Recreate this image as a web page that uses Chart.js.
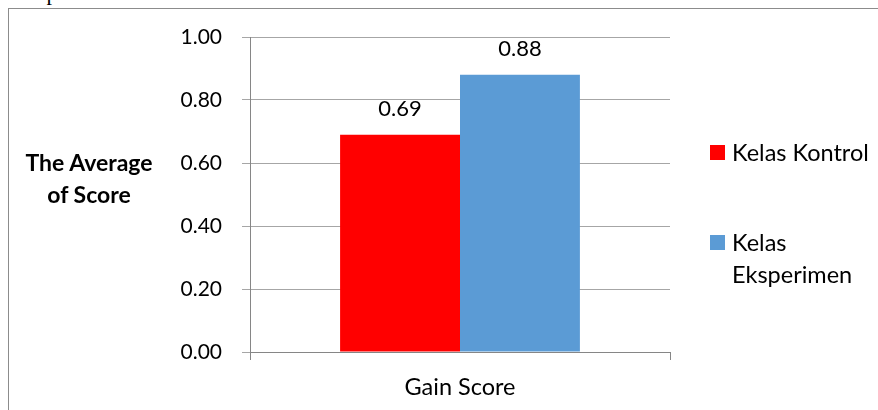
<!DOCTYPE html>
<html>
<head>
<meta charset="utf-8">
<script src="https://cdn.jsdelivr.net/npm/chart.js@4.4.1/dist/chart.umd.min.js"></script>
<style>
  body { margin: 0; background: #fff; overflow: hidden; }
  #wrap { position: relative; width: 878px; height: 410px; }
  #frame { position: absolute; left: 8px; top: 8px; width: 900px; height: 420px;
           border-left: 1px solid #8c8c8c; border-top: 1px solid #8c8c8c; }
  #above { position: absolute; left: -3px; top: -20px; font: 22px "Liberation Serif", serif; color: #000; }
  #chartBox { position: absolute; left: 0; top: 0; width: 878px; height: 410px; }
  #yTitle { position: absolute; left: 14px; top: 146px; width: 150px; text-align: center;
            font: bold 23px Lato, sans-serif; line-height: 32px; color: #000; }
  #legend { position: absolute; left: 710px; top: 136px; font: 23.5px Lato, sans-serif; color: #000; }
  .item { position: relative; padding-left: 22px; width: 150px; line-height: 32px; }
  .box { position: absolute; left: 0; top: 9px; width: 15px; height: 15px; }
</style>
</head>
<body>
<div id="wrap">
  <div id="above">n Graph 4.9.</div>
  <div id="frame"></div>
  <div id="chartBox"><canvas id="gainChart"></canvas></div>
  <div id="yTitle">The Average<br>of Score</div>
  <div id="legend"></div>
</div>
<script>
const categories = ["Gain Score"];
const seriesNames = ["Kelas Kontrol", "Kelas Eksperimen"];
const seriesValues = [[0.69], [0.88]];
const seriesColors = ["#ff0000", "#5b9bd5"];
const yMin = 0, yMax = 1, yStep = 0.2;

// value labels above bars
const valueLabels = {
  id: "valueLabels",
  afterDatasetsDraw(chart) {
    const ctx = chart.ctx;
    ctx.save();
    ctx.font = "22px Lato, sans-serif";
    ctx.fillStyle = "#000";
    ctx.textAlign = "center";
    ctx.textBaseline = "alphabetic";
    chart.data.datasets.forEach((ds, i) => {
      chart.getDatasetMeta(i).data.forEach((bar, j) => {
        ctx.fillText(ds.data[j].toFixed(2), bar.x, bar.y - 19);
      });
    });
    ctx.restore();
  }
};

function buildLegend() {
  const legend = document.getElementById("legend");
  seriesNames.forEach((name, i) => {
    const item = document.createElement("div");
    item.className = "item";
    item.style.marginBottom = i === 0 ? "58px" : "0";
    item.innerHTML = '<span class="box" style="background:' + seriesColors[i] + '"></span>' + name;
    legend.appendChild(item);
  });
}

function createGraph() {
  const ctx = document.getElementById("gainChart");
  new Chart(ctx, {
    type: "bar",
    data: {
      labels: categories,
      datasets: seriesNames.map((name, i) => ({
        label: name,
        data: seriesValues[i],
        backgroundColor: seriesColors[i],
        borderWidth: 0,
        barPercentage: 1,
        categoryPercentage: 0.571
      }))
    },
    options: {
      responsive: true,
      maintainAspectRatio: false,
      animation: false,
      layout: { padding: { left: 0, top: 37, right: 208, bottom: 0 } },
      plugins: { legend: { display: false }, tooltip: { enabled: false } },
      scales: {
        y: {
          min: yMin,
          max: yMax,
          afterFit: s => { s.width = 250; },
          ticks: {
            stepSize: yStep,
            padding: 20,
            color: "#000",
            font: { family: "Lato", size: 21 },
            callback: v => Number(v).toFixed(2)
          },
          grid: { color: "#a6a6a6", lineWidth: 1, tickLength: 8 },
          border: { color: "#868686", width: 1 }
        },
        x: {
          afterFit: s => { s.height = 58; },
          ticks: {
            padding: 13,
            color: "#000",
            font: { family: "Lato", size: 23.5 }
          },
          grid: { drawOnChartArea: false, color: "#868686", tickLength: 8 },
          border: { color: "#868686", width: 1 }
        }
      }
    },
    plugins: [valueLabels]
  });
}

document.addEventListener("DOMContentLoaded", function () {
  buildLegend();
  createGraph();
});
</script>
</body>
</html>
